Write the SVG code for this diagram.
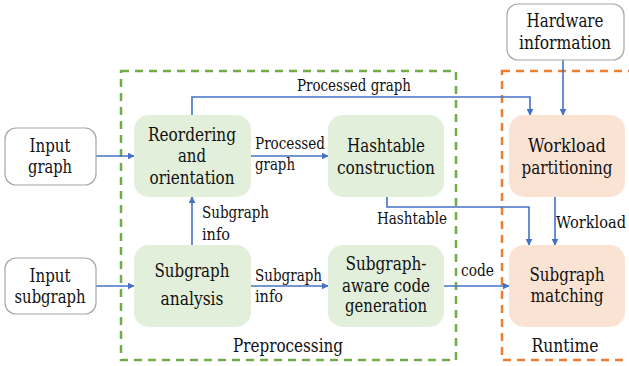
<svg xmlns="http://www.w3.org/2000/svg" width="629" height="366" viewBox="0 0 629 366">
  <defs>
    <marker id="arr" viewBox="0 0 10 10" refX="9" refY="5" markerWidth="7" markerHeight="7" markerUnits="userSpaceOnUse" orient="auto">
      <path d="M0,0 L10,5 L0,10 z" fill="#4472c4"/>
    </marker>
  </defs>
  <style>
    text { font-family: "DejaVu Serif Condensed", "DejaVu Serif", serif; font-stretch: condensed; fill: #111; }
    .nt { font-size: 18px; text-anchor: middle; }
    .lb { font-size: 16px; }
    .in { fill: #ffffff; stroke: #a6a6a6; stroke-width: 1.2; }
    .pre { fill: #e2efda; stroke: none; }
    .run { fill: #fbe3d4; stroke: none; }
    .edge { fill: none; stroke: #4472c4; stroke-width: 1.6; }
    .grp { fill: none; stroke-width: 2.5; stroke-dasharray: 8 6; }
  </style>

  <rect width="629" height="366" fill="#ffffff"/>

  <!-- stage frames -->
  <g id="preprocessing">
    <rect class="grp" x="121" y="71" width="335" height="289" stroke="#70ad47"/>
    <text class="nt" x="288" y="352" textLength="110" lengthAdjust="spacingAndGlyphs">Preprocessing</text>
  </g>
  <g id="runtime">
    <rect class="grp" x="502" y="71" width="140" height="289" stroke="#ed7d31"/>
    <text class="nt" x="565" y="352" textLength="67" lengthAdjust="spacingAndGlyphs">Runtime</text>
  </g>

  <!-- connectors -->
  <g id="connectors">
    <path class="edge" d="M96,156 H134" marker-end="url(#arr)"/>
    <path class="edge" d="M96,286 H134" marker-end="url(#arr)"/>
    <path class="edge" d="M192,245 V197" marker-end="url(#arr)"/>
    <path class="edge" d="M251,156 H328" marker-end="url(#arr)"/>
    <path class="edge" d="M251,286 H328" marker-end="url(#arr)"/>
    <path class="edge" d="M192,115 V97 H530 V115" marker-end="url(#arr)"/>
    <path class="edge" d="M563,60 V115" marker-end="url(#arr)"/>
    <path class="edge" d="M387,197 V207 H529 V245" marker-end="url(#arr)"/>
    <path class="edge" d="M555,197 V245" marker-end="url(#arr)"/>
    <path class="edge" d="M444,286 H509" marker-end="url(#arr)"/>
    <text class="lb" x="354" y="91" text-anchor="middle" textLength="114" lengthAdjust="spacingAndGlyphs">Processed graph</text>
    <text class="lb" x="255" y="149" textLength="70" lengthAdjust="spacingAndGlyphs">Processed</text>
    <text class="lb" x="255" y="170" textLength="40" lengthAdjust="spacingAndGlyphs">graph</text>
    <text class="lb" x="202" y="218" textLength="67" lengthAdjust="spacingAndGlyphs">Subgraph</text>
    <text class="lb" x="202" y="240" textLength="28" lengthAdjust="spacingAndGlyphs">info</text>
    <text class="lb" x="255" y="281" textLength="67" lengthAdjust="spacingAndGlyphs">Subgraph</text>
    <text class="lb" x="255" y="302" textLength="28" lengthAdjust="spacingAndGlyphs">info</text>
    <text class="lb" x="377" y="224" textLength="70" lengthAdjust="spacingAndGlyphs">Hashtable</text>
    <text class="lb" x="556" y="228" textLength="70" lengthAdjust="spacingAndGlyphs">Workload</text>
    <text class="lb" x="461" y="276" textLength="33" lengthAdjust="spacingAndGlyphs">code</text>
  </g>

  <!-- nodes -->
  <g id="input-graph">
    <rect class="in" x="5" y="128" width="91" height="57" rx="11"/>
    <text class="nt" x="50" y="152" textLength="41" lengthAdjust="spacingAndGlyphs">Input</text>
    <text class="nt" x="50" y="173" textLength="44" lengthAdjust="spacingAndGlyphs">graph</text>
  </g>
  <g id="input-subgraph">
    <rect class="in" x="5" y="258" width="91" height="56" rx="11"/>
    <text class="nt" x="50" y="282" textLength="41" lengthAdjust="spacingAndGlyphs">Input</text>
    <text class="nt" x="50" y="303" textLength="71" lengthAdjust="spacingAndGlyphs">subgraph</text>
  </g>
  <g id="hardware-information">
    <rect class="in" x="507" y="4" width="117" height="56" rx="11"/>
    <text class="nt" x="565" y="27" textLength="77" lengthAdjust="spacingAndGlyphs">Hardware</text>
    <text class="nt" x="565" y="49" textLength="92" lengthAdjust="spacingAndGlyphs">information</text>
  </g>
  <g id="reordering">
    <rect class="pre" x="134" y="115" width="117" height="82" rx="15"/>
    <text class="nt" x="192" y="141" textLength="88" lengthAdjust="spacingAndGlyphs">Reordering</text>
    <text class="nt" x="192" y="162" textLength="28" lengthAdjust="spacingAndGlyphs">and</text>
    <text class="nt" x="192" y="184" textLength="85" lengthAdjust="spacingAndGlyphs">orientation</text>
  </g>
  <g id="hashtable-construction">
    <rect class="pre" x="328" y="115" width="116" height="82" rx="15"/>
    <text class="nt" x="386" y="152" textLength="78" lengthAdjust="spacingAndGlyphs">Hashtable</text>
    <text class="nt" x="386" y="174" textLength="98" lengthAdjust="spacingAndGlyphs">construction</text>
  </g>
  <g id="subgraph-analysis">
    <rect class="pre" x="134" y="245" width="117" height="82" rx="15"/>
    <text class="nt" x="192" y="277" textLength="75" lengthAdjust="spacingAndGlyphs">Subgraph</text>
    <text class="nt" x="192" y="305" textLength="63" lengthAdjust="spacingAndGlyphs">analysis</text>
  </g>
  <g id="code-generation">
    <rect class="pre" x="328" y="245" width="116" height="82" rx="15"/>
    <text class="nt" x="386" y="270" textLength="81" lengthAdjust="spacingAndGlyphs">Subgraph-</text>
    <text class="nt" x="386" y="292" textLength="88" lengthAdjust="spacingAndGlyphs">aware code</text>
    <text class="nt" x="386" y="312" textLength="82" lengthAdjust="spacingAndGlyphs">generation</text>
  </g>
  <g id="workload-partitioning">
    <rect class="run" x="509" y="115" width="116" height="82" rx="15"/>
    <text class="nt" x="567" y="152" textLength="78" lengthAdjust="spacingAndGlyphs">Workload</text>
    <text class="nt" x="567" y="174" textLength="91" lengthAdjust="spacingAndGlyphs">partitioning</text>
  </g>
  <g id="subgraph-matching">
    <rect class="run" x="509" y="245" width="116" height="82" rx="15"/>
    <text class="nt" x="567" y="281" textLength="75" lengthAdjust="spacingAndGlyphs">Subgraph</text>
    <text class="nt" x="567" y="302" textLength="73" lengthAdjust="spacingAndGlyphs">matching</text>
  </g>
</svg>
